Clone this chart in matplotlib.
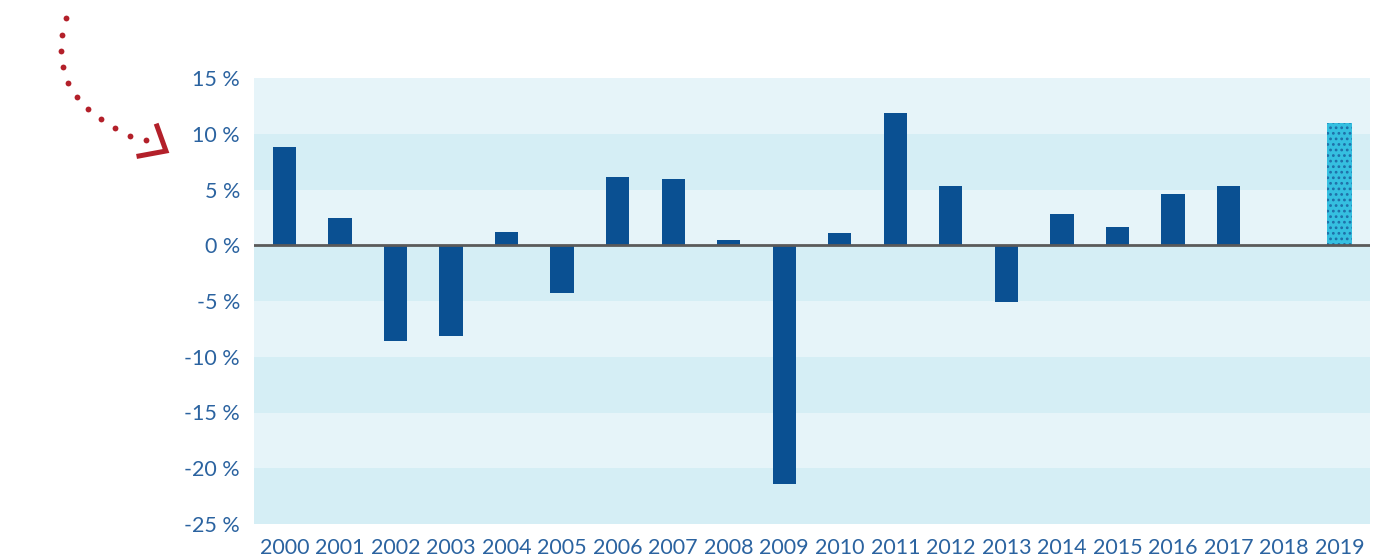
import matplotlib
matplotlib.use("Agg")
import matplotlib.pyplot as plt
from matplotlib.lines import Line2D
import numpy as np

years = [str(y) for y in range(2000, 2020)]
values = [8.8, 2.4, -8.6, -8.1, 1.2, -4.3, 6.1, 5.9, 0.45, -21.4,
          1.1, 11.9, 5.3, -5.1, 2.8, 1.6, 4.6, 5.3, 0.0, 11.0]
forecast = [False]*19 + [True]
yticks = [15, 10, 5, 0, -5, -10, -15, -20, -25]
ytick_labels = [f"{t} %" for t in yticks]

plt.rcParams['font.family'] = ['Lato', 'DejaVu Sans']
plt.rcParams['hatch.linewidth'] = 1.2

W, H = 1397, 556
fig = plt.figure(figsize=(W/100, H/100), dpi=100)
ax = fig.add_axes([254/W, 1-524/H, (1370-254)/W, (524-78)/H])

ax.set_xlim(-0.55, 19.55)
ax.set_ylim(-25, 15)

light = '#e6f4f9'
dark = '#d5eef5'
for i, lo in enumerate(range(-25, 15, 5)):
    ax.axhspan(lo, lo+5, color=dark if i % 2 == 0 else light, lw=0, zorder=0)

x = np.arange(len(years))
for xi, v, f in zip(x, values, forecast):
    if v == 0:
        continue
    if f:
        ax.bar(xi, v, width=0.44, color='#35bfe0', edgecolor='#1f6fa8', linewidth=0,
               hatch='...', zorder=2)
    else:
        ax.bar(xi, v, width=0.42, color='#0a5092', linewidth=0, zorder=2)

ax.axhline(0, color='#5a5a5a', lw=2, zorder=3)

for s in ax.spines.values():
    s.set_visible(False)
ax.set_yticks(yticks)
ax.set_yticklabels(ytick_labels)
ax.set_xticks(x)
ax.set_xticklabels(years)
ax.tick_params(axis='both', length=0, labelsize=15.5, labelcolor='#2b63a0')
ax.tick_params(axis='y', pad=10)
ax.tick_params(axis='x', pad=10)

# decorative red dotted arrow (pixel coordinates of figure)
def px(xp, yp):
    return xp / W, 1 - yp / H
dots = [(66, 18), (62, 35), (61, 51), (63, 67), (68, 83), (77, 97), (88, 109),
        (101, 119), (115, 128), (130, 136), (146, 140)]
for dx, dy in dots:
    fx, fy = px(dx, dy)
    fig.add_artist(Line2D([fx], [fy], marker='o', markersize=4.2, color='#b3202a',
                          markeredgewidth=0, transform=fig.transFigure))
cx = [157, 166, 139]
cy = [126, 151, 156]
fig.add_artist(Line2D([c / W for c in cx], [1 - c / H for c in cy], color='#b3202a',
                      lw=3.6, solid_joinstyle='miter', transform=fig.transFigure))

fig.savefig('out.png', dpi=100)
